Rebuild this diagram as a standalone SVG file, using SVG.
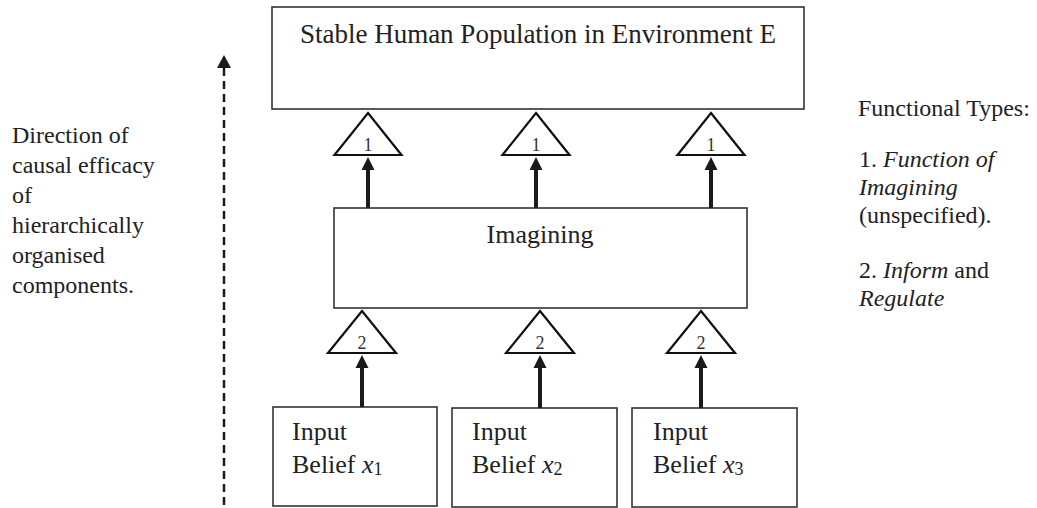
<svg xmlns="http://www.w3.org/2000/svg" width="1037" height="508" viewBox="0 0 1037 508">
<style>
text{font-family:"Liberation Serif","Times New Roman",serif;fill:#222}
.box{fill:#fff;stroke:#333;stroke-width:1.6}
.tri{fill:#fff;stroke:#111;stroke-width:2.2;stroke-linejoin:miter}
.tl{font-size:18px;text-anchor:middle;fill:#333}
.arr{stroke:#1a1a1a;stroke-width:4;fill:none;marker-end:url(#ah)}
.dash{stroke:#1a1a1a;stroke-width:2.5;fill:none;stroke-dasharray:8 5;marker-end:url(#ah2)}
.big{font-size:27px}
.mid{font-size:26px}
.side{font-size:24px}
.leg{font-size:24px}
.it{font-style:italic}
.sub{font-size:18px}
</style>
<defs>
<marker id="ah" markerUnits="userSpaceOnUse" markerWidth="14" markerHeight="14" viewBox="0 -7 14 14" refX="0" refY="0" orient="auto">
<path d="M0,-6.5 L13,0 L0,6.5 Z" fill="#1a1a1a"/>
</marker>
<marker id="ah2" markerUnits="userSpaceOnUse" markerWidth="15" markerHeight="16" viewBox="0 -8 15 16" refX="0" refY="0" orient="auto">
<path d="M0,-7 L13,0 L0,7 Z" fill="#1a1a1a"/>
</marker>
</defs>

<g id="top-box">
<rect class="box" x="272" y="7" width="532" height="102"/>
<text class="big" x="538" y="43" text-anchor="middle">Stable Human Population in Environment E</text>
</g>

<g id="imagining">
<rect class="box" x="334" y="208" width="413" height="100"/>
<text class="mid" x="540" y="243" text-anchor="middle">Imagining</text>
</g>

<g id="input1">
<rect class="box" x="273" y="407" width="164" height="99"/>
<text class="mid" x="292" y="440">Input</text>
<text class="mid" x="292" y="473">Belief <tspan class="it">x</tspan><tspan class="sub" dy="2">1</tspan></text>
</g>
<g id="input2">
<rect class="box" x="452" y="408" width="165" height="99"/>
<text class="mid" x="472" y="440">Input</text>
<text class="mid" x="472" y="473">Belief <tspan class="it">x</tspan><tspan class="sub" dy="2">2</tspan></text>
</g>
<g id="input3">
<rect class="box" x="632" y="408" width="165" height="99"/>
<text class="mid" x="653" y="440">Input</text>
<text class="mid" x="653" y="473">Belief <tspan class="it">x</tspan><tspan class="sub" dy="2">3</tspan></text>
</g>

<g id="func1-a"><path class="tri" d="M368,113 L401.5,155 L334.5,155 Z"/><text class="tl" x="368" y="151">1</text></g>
<g id="func1-b"><path class="tri" d="M536,113 L569.5,155 L502.5,155 Z"/><text class="tl" x="536" y="151">1</text></g>
<g id="func1-c"><path class="tri" d="M711,113 L744.5,155 L677.5,155 Z"/><text class="tl" x="711" y="151">1</text></g>
<g id="func2-a"><path class="tri" d="M362,311 L396,353 L328,353 Z"/><text class="tl" x="362" y="349">2</text></g>
<g id="func2-b"><path class="tri" d="M540,311 L574,353 L506,353 Z"/><text class="tl" x="540" y="349">2</text></g>
<g id="func2-c"><path class="tri" d="M701,311 L735,353 L667,353 Z"/><text class="tl" x="701" y="349">2</text></g>

<g id="connectors">
<path class="arr" d="M368,208 V170"/>
<path class="arr" d="M536,208 V170"/>
<path class="arr" d="M711,208 V170"/>
<path class="arr" d="M362,407 V368"/>
<path class="arr" d="M540,408 V368"/>
<path class="arr" d="M701,408 V368"/>
</g>

<g id="causal-direction">
<path class="dash" d="M224,505 V68"/>
<text class="side" x="12" y="143">Direction of</text>
<text class="side" x="12" y="173">causal efficacy</text>
<text class="side" x="12" y="203">of</text>
<text class="side" x="12" y="233">hierarchically</text>
<text class="side" x="12" y="263">organised</text>
<text class="side" x="12" y="293">components.</text>
</g>

<g id="legend">
<text class="leg" x="858" y="116">Functional Types:</text>
<text class="leg" x="859" y="167">1. <tspan class="it">Function of</tspan></text>
<text class="leg it" x="859" y="195">Imagining</text>
<text class="leg" x="859" y="223">(unspecified).</text>
<text class="leg" x="859" y="278">2. <tspan class="it">Inform</tspan> and</text>
<text class="leg it" x="859" y="306">Regulate</text>
</g>
</svg>
